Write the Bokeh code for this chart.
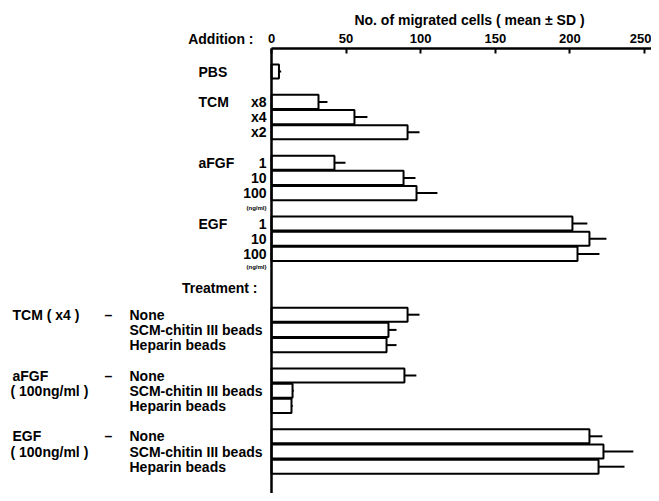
from bokeh.plotting import figure
from bokeh.models import Range1d, FixedTicker, LinearAxis
from bokeh.core.properties import value
from bokeh.embed import file_html
from bokeh.resources import INLINE

# ---------------- data ----------------
pbs_mean = [5.0]
pbs_sd = [1.5]
tcm_levels = ["x8", "x4", "x2"]
tcm_mean = [31.5, 55.6, 91.2]
tcm_sd = [6.0, 8.7, 8.0]
afgf_levels = ["1", "10", "100"]
afgf_mean = [42.2, 88.5, 97.2]
afgf_sd = [7.4, 8.0, 14.0]
egf_levels = ["1", "10", "100"]
egf_mean = [201.7, 213.1, 205.1]
egf_sd = [10.0, 11.4, 14.7]

treatments = ["None", "SCM-chitin III beads", "Heparin beads"]
tcm4_mean = [91.2, 78.4, 77.1]
tcm4_sd = [8.0, 5.4, 6.7]
afgf100_mean = [89.1, 14.1, 13.4]
afgf100_sd = [8.0, 0.8, 0.8]
egf100_mean = [213.1, 222.5, 219.2]
egf100_sd = [8.7, 20.0, 17.4]

x_ticks = [0, 50, 100, 150, 200, 250]
addition_names = ["PBS", "TCM", "aFGF", "EGF"]
treatment_groups = ["TCM ( x4 )", "aFGF", "EGF"]
treatment_sub = ["( 100ng/ml )", "( 100ng/ml )"]
x_title = "No. of migrated cells ( mean \u00b1 SD )"

# ---------------- layout ----------------
W, H = 651, 493
AXIS_Y = 47.5            # figure px of the top axis line
X0 = 271                 # figure px of value 0
PPU = 1.492              # px per unit
ROW0 = 71                # figure px of slot 0 center
PITCH = 15.2             # px per slot

def xd(px):
    return (px - X0) / PPU

def yd(py):
    return (py - ROW0) / PITCH

blocks = [
    (0, pbs_mean, pbs_sd),
    (2, tcm_mean, tcm_sd),
    (6, afgf_mean, afgf_sd),
    (10, egf_mean, egf_sd),
    (16, tcm4_mean, tcm4_sd),
    (20, afgf100_mean, afgf100_sd),
    (24, egf100_mean, egf100_sd),
]
ys, means, sds = [], [], []
for start, m, s in blocks:
    for i in range(len(m)):
        ys.append(start + i)
        means.append(m[i])
        sds.append(s[i])
ends = [m + s for m, s in zip(means, sds)]

p = figure(width=W, height=H, output_backend="svg", toolbar_location=None,
           x_range=Range1d(xd(0), xd(W)),
           y_range=Range1d(yd(H), yd(0)),
           x_axis_location=None, y_axis_location=None,
           min_border_left=0, min_border_right=0, min_border_bottom=0,
           min_border_top=0)
p.outline_line_color = None
p.xgrid.visible = False
p.ygrid.visible = False
p.background_fill_color = "white"

# top value axis
ax = LinearAxis(fixed_location=yd(AXIS_Y), ticker=FixedTicker(ticks=x_ticks),
                bounds=(0, 255))
ax.axis_line_width = 2.5
ax.axis_line_color = "black"
ax.major_tick_in = 5
ax.major_tick_out = 0
ax.major_tick_line_width = 2
ax.minor_tick_line_color = None
ax.major_label_standoff = 5
ax.major_label_text_font = "Liberation Sans"
ax.major_label_text_font_size = "13px"
ax.major_label_text_font_style = "bold"
ax.major_label_text_color = "black"
p.add_layout(ax, "above")

# vertical baseline axis at value 0
vax = LinearAxis(fixed_location=0, ticker=FixedTicker(ticks=[]),
                 bounds=(yd(AXIS_Y), yd(H + 20)))
vax.axis_line_width = 2.5
vax.axis_line_color = "black"
vax.major_tick_line_color = None
vax.minor_tick_line_color = None
vax.major_label_text_font_size = "0px"
p.add_layout(vax, "left")

p.hbar(y=ys, left=0, right=means, height=0.93, fill_color="white",
       line_color="black", line_width=2)
p.segment(x0=means, y0=ys, x1=ends, y1=ys, line_color="black", line_width=2)

FONT = value("Liberation Sans")

def txt(xs, yv, labels, align="left", size="14px"):
    p.text(x=xs, y=yv, text=labels, text_align=align, text_baseline="middle",
           text_font=FONT, text_font_size=size, text_font_style="bold",
           text_color="black")

# header
txt([xd(469)], [yd(19)], [x_title], "center")
txt([xd(253)], [yd(38)], ["Addition :"], "right")

# addition section
txt([xd(198)] * 4, [0, 2, 6, 10], addition_names)
txt([xd(266)] * 3, [2, 3, 4], tcm_levels, "right")
txt([xd(266)] * 3, [6, 7, 8], afgf_levels, "right")
txt([xd(266)] * 3, [10, 11, 12], egf_levels, "right")
txt([xd(266)] * 2, [yd(207), yd(266)], ["(ng/ml)", "(ng/ml)"], "right", "6px")
txt([xd(257)], [yd(287)], ["Treatment :"], "right")

# treatment section
txt([xd(12)] * 3, [16, 20, 24], treatment_groups)
txt([xd(10)] * 2, [21, 25], treatment_sub)
txt([xd(108)] * 3, [16, 20, 24], ["\u2013"] * 3, "center")
txt([xd(129)] * 9, list(range(16, 19)) + list(range(20, 23)) + list(range(24, 27)),
    treatments * 3)

open("out.html", "w").write(file_html(p, INLINE))
